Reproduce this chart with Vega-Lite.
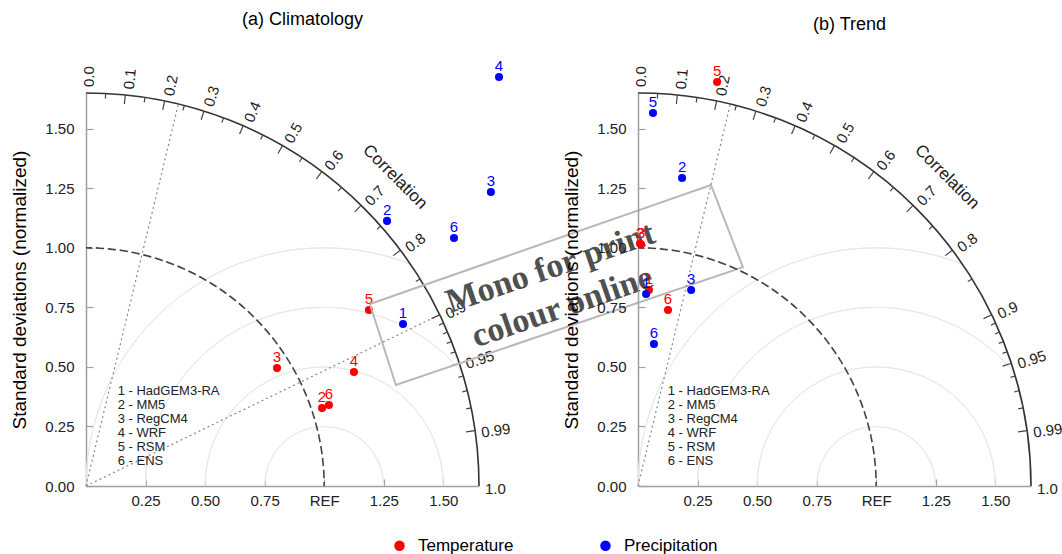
{
  "$schema": "https://vega.github.io/schema/vega-lite/v6.json",
  "padding": {"left": 10, "top": 11, "right": 0, "bottom": 0},
  "background": "white",
  "config": {
    "view": {"stroke": null},
    "font": "Liberation Sans",
    "axis": {"domainColor": "#a0a0a0", "domainWidth": 1.5, "tickColor": "#a0a0a0", "tickWidth": 1.2, "tickSize": -7, "labelFontSize": 15, "labelColor": "#222", "labelFont": "Liberation Sans", "titleFont": "Liberation Sans", "titleFontSize": 19, "titleFontWeight": "normal", "titleColor": "#000", "grid": false, "zindex": 1},
    "title": {"font": "Liberation Sans", "fontSize": 18, "fontWeight": "normal", "color": "#000", "anchor": "middle", "frame": "group", "offset": 30}
  },
  "datasets": {
    "rms": [
      {"x": 1, "y": 0, "r": 0.25, "t0": -1.5708, "t1": 1.5708},
      {"x": 1, "y": 0, "r": 0.5, "t0": -1.5708, "t1": 1.5708},
      {"x": 1, "y": 0, "r": 0.75, "t0": -1.5708, "t1": 0.8842},
      {"x": 1, "y": 0, "r": 1.0, "t0": -1.5708, "t1": 0.3697}
    ],
    "refarc": [{"x": 0, "y": 0, "r": 1.0, "t0": 0, "t1": 1.5708}],
    "outer": [{"x": 0, "y": 0, "r": 1.65, "t0": 0, "t1": 1.5708}],
    "ticks": [
      {"x": 0, "y": 0, "c": 0.1, "t": 0.100167, "kind": "major"},
      {"x": 0, "y": 0, "c": 0.2, "t": 0.201358, "kind": "major"},
      {"x": 0, "y": 0, "c": 0.3, "t": 0.304693, "kind": "major"},
      {"x": 0, "y": 0, "c": 0.4, "t": 0.411517, "kind": "major"},
      {"x": 0, "y": 0, "c": 0.5, "t": 0.523599, "kind": "major"},
      {"x": 0, "y": 0, "c": 0.6, "t": 0.643501, "kind": "major"},
      {"x": 0, "y": 0, "c": 0.7, "t": 0.775397, "kind": "major"},
      {"x": 0, "y": 0, "c": 0.8, "t": 0.927295, "kind": "major"},
      {"x": 0, "y": 0, "c": 0.9, "t": 1.11977, "kind": "major"},
      {"x": 0, "y": 0, "c": 0.95, "t": 1.253236, "kind": "major"},
      {"x": 0, "y": 0, "c": 0.99, "t": 1.429257, "kind": "major"},
      {"x": 0, "y": 0, "c": 0.05, "t": 0.050021, "kind": "minor"},
      {"x": 0, "y": 0, "c": 0.15, "t": 0.150568, "kind": "minor"},
      {"x": 0, "y": 0, "c": 0.25, "t": 0.25268, "kind": "minor"},
      {"x": 0, "y": 0, "c": 0.35, "t": 0.357571, "kind": "minor"},
      {"x": 0, "y": 0, "c": 0.45, "t": 0.466765, "kind": "minor"},
      {"x": 0, "y": 0, "c": 0.55, "t": 0.582364, "kind": "minor"},
      {"x": 0, "y": 0, "c": 0.65, "t": 0.707584, "kind": "minor"},
      {"x": 0, "y": 0, "c": 0.75, "t": 0.848062, "kind": "minor"},
      {"x": 0, "y": 0, "c": 0.85, "t": 1.015985, "kind": "minor"},
      {"x": 0, "y": 0, "c": 0.91, "t": 1.143284, "kind": "minor"},
      {"x": 0, "y": 0, "c": 0.92, "t": 1.16808, "kind": "minor"},
      {"x": 0, "y": 0, "c": 0.93, "t": 1.194236, "kind": "minor"},
      {"x": 0, "y": 0, "c": 0.94, "t": 1.222025, "kind": "minor"},
      {"x": 0, "y": 0, "c": 0.96, "t": 1.287002, "kind": "minor"},
      {"x": 0, "y": 0, "c": 0.97, "t": 1.325817, "kind": "minor"},
      {"x": 0, "y": 0, "c": 0.98, "t": 1.370461, "kind": "minor"}
    ],
    "clabels": [
      {"x": 0, "y": 0, "label": "0.0", "t": 0, "rot": -90},
      {"x": 0, "y": 0, "label": "0.1", "t": 0.100167, "rot": -84.26},
      {"x": 0, "y": 0, "label": "0.2", "t": 0.201358, "rot": -78.46},
      {"x": 0, "y": 0, "label": "0.3", "t": 0.304693, "rot": -72.54},
      {"x": 0, "y": 0, "label": "0.4", "t": 0.411517, "rot": -66.42},
      {"x": 0, "y": 0, "label": "0.5", "t": 0.523599, "rot": -60},
      {"x": 0, "y": 0, "label": "0.6", "t": 0.643501, "rot": -53.13},
      {"x": 0, "y": 0, "label": "0.7", "t": 0.775397, "rot": -45.57},
      {"x": 0, "y": 0, "label": "0.8", "t": 0.927295, "rot": -36.87},
      {"x": 0, "y": 0, "label": "0.9", "t": 1.11977, "rot": -25.84},
      {"x": 0, "y": 0, "label": "0.95", "t": 1.253236, "rot": -18.19},
      {"x": 0, "y": 0, "label": "0.99", "t": 1.429257, "rot": -8.11},
      {"x": 0, "y": 0, "label": "1.0", "t": 1.570796, "rot": 0}
    ],
    "ctitle": [{"x": 0, "y": 0, "t": 0.7854, "label": "Correlation"}],
    "rays_a": [
      {"x": 0, "y": 0, "x2": 0.3878, "y2": 1.6038},
      {"x": 0, "y": 0, "x2": 1.485, "y2": 0.7192}
    ],
    "rays_b": [
      {"x": 0, "y": 0, "x2": 0.3878, "y2": 1.6038}
    ],
    "models_a": [
      {"x": 0.133, "y": 0.399, "label": "1 - HadGEM3-RA"},
      {"x": 0.133, "y": 0.34, "label": "2 - MM5"},
      {"x": 0.133, "y": 0.281, "label": "3 - RegCM4"},
      {"x": 0.133, "y": 0.221, "label": "4 - WRF"},
      {"x": 0.133, "y": 0.162, "label": "5 - RSM"},
      {"x": 0.133, "y": 0.103, "label": "6 - ENS"}
    ],
    "models_b": [
      {"x": 0.125, "y": 0.399, "label": "1 - HadGEM3-RA"},
      {"x": 0.125, "y": 0.34, "label": "2 - MM5"},
      {"x": 0.125, "y": 0.281, "label": "3 - RegCM4"},
      {"x": 0.125, "y": 0.221, "label": "4 - WRF"},
      {"x": 0.125, "y": 0.162, "label": "5 - RSM"},
      {"x": 0.125, "y": 0.103, "label": "6 - ENS"}
    ],
    "pts_a": [
      {"x": 0.991, "y": 0.327, "id": "2", "var": "Temperature"},
      {"x": 0.802, "y": 0.495, "id": "3", "var": "Temperature"},
      {"x": 1.125, "y": 0.479, "id": "4", "var": "Temperature"},
      {"x": 1.188, "y": 0.739, "id": "5", "var": "Temperature"},
      {"x": 1.02, "y": 0.34, "id": "6", "var": "Temperature"},
      {"x": 1.331, "y": 0.68, "id": "1", "var": "Precipitation"},
      {"x": 1.264, "y": 1.113, "id": "2", "var": "Precipitation"},
      {"x": 1.7, "y": 1.234, "id": "3", "var": "Precipitation"},
      {"x": 1.734, "y": 1.717, "id": "4", "var": "Precipitation"},
      {"x": 1.545, "y": 1.041, "id": "6", "var": "Precipitation"}
    ],
    "pts_b": [
      {"x": 0.046, "y": 0.823, "id": "1", "var": "Temperature"},
      {"x": 0.008, "y": 1.018, "id": "2", "var": "Temperature"},
      {"x": 0.013, "y": 1.014, "id": "3", "var": "Temperature"},
      {"x": 0.332, "y": 1.696, "id": "5", "var": "Temperature"},
      {"x": 0.126, "y": 0.739, "id": "6", "var": "Temperature"},
      {"x": 0.034, "y": 0.806, "id": "1", "var": "Precipitation"},
      {"x": 0.185, "y": 1.293, "id": "2", "var": "Precipitation"},
      {"x": 0.223, "y": 0.823, "id": "3", "var": "Precipitation"},
      {"x": 0.063, "y": 1.566, "id": "5", "var": "Precipitation"},
      {"x": 0.067, "y": 0.596, "id": "6", "var": "Precipitation"}
    ],
    "box": [
      {"x": 1.192, "y": 0.764, "k": 0},
      {"x": 2.624, "y": 1.264, "k": 1},
      {"x": 2.758, "y": 0.919, "k": 2},
      {"x": 1.301, "y": 0.424, "k": 3},
      {"x": 1.192, "y": 0.764, "k": 4}
    ],
    "wm": [
      {"x": 1.95, "y": 0.915, "label": "Mono for print"},
      {"x": 2.0, "y": 0.75, "label": "colour online"}
    ]
  },
  "hconcat": [
    {
      "width": 393,
      "height": 393,
      "title": {"text": "(a) Climatology", "dx": 20},
      "encoding": {
        "x": {"field": "x", "type": "quantitative", "scale": {"domain": [0, 1.65], "nice": false, "zero": false}, "axis": {"values": [0.25, 0.5, 0.75, 1, 1.25, 1.5], "labelExpr": "datum.value == 1 ? 'REF' : format(datum.value, '.2f')", "title": null, "labelPadding": 14}},
        "y": {"field": "y", "type": "quantitative", "scale": {"domain": [0, 1.65], "nice": false, "zero": false}, "axis": {"values": [0, 0.25, 0.5, 0.75, 1, 1.25, 1.5], "format": ".2f", "title": "Standard deviations (normalized)", "labelPadding": 19, "titlePadding": 15}}
      },
      "layer": [
        {
          "data": {"name": "rms"},
          "mark": {"type": "arc", "filled": false, "stroke": "#e8e8e8", "strokeWidth": 1, "clip": false},
          "encoding": {
            "theta": {"field": "t0", "type": "quantitative", "scale": null, "stack": null},
            "theta2": {"field": "t1"},
            "radius": {"field": "r", "type": "quantitative", "scale": {"type": "linear", "domain": [0, 1.65], "range": [0, 393], "zero": true, "nice": false}},
            "radius2": {"field": "r"}
          }
        },
        {
          "data": {"name": "refarc"},
          "mark": {"type": "arc", "filled": false, "stroke": "#444", "strokeWidth": 1.6, "strokeDash": [8, 4], "strokeDashOffset": 1.863, "clip": false},
          "encoding": {
            "theta": {"field": "t0", "type": "quantitative", "scale": null, "stack": null},
            "theta2": {"field": "t1"},
            "radius": {"field": "r", "type": "quantitative", "scale": {"type": "linear", "domain": [0, 1.65], "range": [0, 393], "zero": true, "nice": false}},
            "radius2": {"field": "r"}
          }
        },
        {
          "data": {"name": "rays_a"},
          "mark": {"type": "rule", "stroke": "#888", "strokeWidth": 1.2, "strokeDash": [2, 3]},
          "encoding": {"x2": {"field": "x2"}, "y2": {"field": "y2"}}
        },
        {
          "data": {"name": "outer"},
          "mark": {"type": "arc", "filled": false, "stroke": "#333", "strokeWidth": 1.6, "clip": false},
          "encoding": {
            "theta": {"field": "t0", "type": "quantitative", "scale": null, "stack": null},
            "theta2": {"field": "t1"},
            "radius": {"field": "r", "type": "quantitative", "scale": {"type": "linear", "domain": [0, 1.65], "range": [0, 393], "zero": true, "nice": false}},
            "radius2": {"field": "r"}
          }
        },
        {
          "data": {"name": "ticks"},
          "transform": [{"filter": "datum.kind == 'major'"}],
          "mark": {"type": "arc", "filled": false, "stroke": "#444", "strokeWidth": 1.2, "clip": false},
          "encoding": {
            "theta": {"field": "t", "type": "quantitative", "scale": null, "stack": null},
            "theta2": {"field": "t"},
            "radius": {"datum": 1.65, "type": "quantitative", "scale": {"type": "linear", "domain": [0, 1.65], "range": [0, 393], "zero": true, "nice": false}},
            "radius2": {"datum": 1.612}
          }
        },
        {
          "data": {"name": "ticks"},
          "transform": [{"filter": "datum.kind == 'minor'"}],
          "mark": {"type": "arc", "filled": false, "stroke": "#444", "strokeWidth": 1.2, "clip": false},
          "encoding": {
            "theta": {"field": "t", "type": "quantitative", "scale": null, "stack": null},
            "theta2": {"field": "t"},
            "radius": {"datum": 1.65, "type": "quantitative", "scale": {"type": "linear", "domain": [0, 1.65], "range": [0, 393], "zero": true, "nice": false}},
            "radius2": {"datum": 1.629}
          }
        },
        {
          "data": {"name": "clabels"},
          "mark": {"type": "text", "align": "left", "baseline": "middle", "fontSize": 15, "fill": "#222", "dy": 3},
          "encoding": {
            "text": {"field": "label"},
            "theta": {"field": "t", "type": "quantitative", "scale": null},
            "radius": {"datum": 1.675, "type": "quantitative", "scale": {"type": "linear", "domain": [0, 1.65], "range": [0, 393], "zero": true, "nice": false}},
            "angle": {"field": "rot", "type": "quantitative", "scale": null}
          }
        },
        {
          "data": {"name": "ctitle"},
          "mark": {"type": "text", "align": "center", "baseline": "middle", "fontSize": 17, "fill": "#222", "angle": 45},
          "encoding": {
            "text": {"field": "label"},
            "theta": {"field": "t", "type": "quantitative", "scale": null},
            "radius": {"datum": 1.835, "type": "quantitative", "scale": {"type": "linear", "domain": [0, 1.65], "range": [0, 393], "zero": true, "nice": false}}
          }
        },
        {
          "data": {"name": "models_a"},
          "mark": {"type": "text", "align": "left", "baseline": "middle", "fontSize": 13, "fill": "#222"},
          "encoding": {"text": {"field": "label"}}
        },
        {
          "data": {"name": "pts_a"},
          "mark": {"type": "circle", "size": 65, "opacity": 1},
          "encoding": {
            "color": {"field": "var", "type": "nominal", "scale": {"domain": ["Temperature", "Precipitation"], "range": ["#ff0000", "#0000ff"]}, "legend": {"orient": "none", "legendX": 305, "legendY": 444, "direction": "horizontal", "columns": 2, "columnPadding": 83, "title": null, "labelFontSize": 17, "labelColor": "#000", "labelFont": "Liberation Sans", "symbolSize": 110, "symbolOpacity": 1, "labelOffset": 10, "padding": 0}}
          }
        },
        {
          "data": {"name": "pts_a"},
          "mark": {"type": "text", "align": "center", "baseline": "alphabetic", "fontSize": 15, "dy": -6},
          "encoding": {
            "text": {"field": "id"},
            "color": {"field": "var", "type": "nominal", "scale": {"domain": ["Temperature", "Precipitation"], "range": ["#ff0000", "#0000ff"]}, "legend": null}
          }
        },
        {
          "data": {"name": "box"},
          "mark": {"type": "line", "stroke": "#b8b8b8", "strokeWidth": 2, "clip": false},
          "encoding": {"order": {"field": "k", "type": "quantitative"}}
        },
        {
          "data": {"name": "wm"},
          "mark": {"type": "text", "align": "center", "baseline": "middle", "font": "Liberation Serif", "fontWeight": "bold", "fontSize": 34, "fill": "#505050", "angle": 341},
          "encoding": {"text": {"field": "label"}}
        }
      ]
    },
    {
      "width": 393,
      "height": 393,
      "title": {"text": "(b) Trend", "dx": 15},
      "encoding": {
        "x": {"field": "x", "type": "quantitative", "scale": {"domain": [0, 1.65], "nice": false, "zero": false}, "axis": {"values": [0.25, 0.5, 0.75, 1, 1.25, 1.5], "labelExpr": "datum.value == 1 ? 'REF' : format(datum.value, '.2f')", "title": null, "labelPadding": 14}},
        "y": {"field": "y", "type": "quantitative", "scale": {"domain": [0, 1.65], "nice": false, "zero": false}, "axis": {"values": [0, 0.25, 0.5, 0.75, 1, 1.25, 1.5], "format": ".2f", "title": "Standard deviations (normalized)", "labelPadding": 19, "titlePadding": 15}}
      },
      "layer": [
        {
          "data": {"name": "rms"},
          "mark": {"type": "arc", "filled": false, "stroke": "#e8e8e8", "strokeWidth": 1, "clip": false},
          "encoding": {
            "theta": {"field": "t0", "type": "quantitative", "scale": null, "stack": null},
            "theta2": {"field": "t1"},
            "radius": {"field": "r", "type": "quantitative", "scale": {"type": "linear", "domain": [0, 1.65], "range": [0, 393], "zero": true, "nice": false}},
            "radius2": {"field": "r"}
          }
        },
        {
          "data": {"name": "refarc"},
          "mark": {"type": "arc", "filled": false, "stroke": "#444", "strokeWidth": 1.6, "strokeDash": [8, 4], "strokeDashOffset": 1.863, "clip": false},
          "encoding": {
            "theta": {"field": "t0", "type": "quantitative", "scale": null, "stack": null},
            "theta2": {"field": "t1"},
            "radius": {"field": "r", "type": "quantitative", "scale": {"type": "linear", "domain": [0, 1.65], "range": [0, 393], "zero": true, "nice": false}},
            "radius2": {"field": "r"}
          }
        },
        {
          "data": {"name": "rays_b"},
          "mark": {"type": "rule", "stroke": "#888", "strokeWidth": 1.2, "strokeDash": [2, 3]},
          "encoding": {"x2": {"field": "x2"}, "y2": {"field": "y2"}}
        },
        {
          "data": {"name": "outer"},
          "mark": {"type": "arc", "filled": false, "stroke": "#333", "strokeWidth": 1.6, "clip": false},
          "encoding": {
            "theta": {"field": "t0", "type": "quantitative", "scale": null, "stack": null},
            "theta2": {"field": "t1"},
            "radius": {"field": "r", "type": "quantitative", "scale": {"type": "linear", "domain": [0, 1.65], "range": [0, 393], "zero": true, "nice": false}},
            "radius2": {"field": "r"}
          }
        },
        {
          "data": {"name": "ticks"},
          "transform": [{"filter": "datum.kind == 'major'"}],
          "mark": {"type": "arc", "filled": false, "stroke": "#444", "strokeWidth": 1.2, "clip": false},
          "encoding": {
            "theta": {"field": "t", "type": "quantitative", "scale": null, "stack": null},
            "theta2": {"field": "t"},
            "radius": {"datum": 1.65, "type": "quantitative", "scale": {"type": "linear", "domain": [0, 1.65], "range": [0, 393], "zero": true, "nice": false}},
            "radius2": {"datum": 1.612}
          }
        },
        {
          "data": {"name": "ticks"},
          "transform": [{"filter": "datum.kind == 'minor'"}],
          "mark": {"type": "arc", "filled": false, "stroke": "#444", "strokeWidth": 1.2, "clip": false},
          "encoding": {
            "theta": {"field": "t", "type": "quantitative", "scale": null, "stack": null},
            "theta2": {"field": "t"},
            "radius": {"datum": 1.65, "type": "quantitative", "scale": {"type": "linear", "domain": [0, 1.65], "range": [0, 393], "zero": true, "nice": false}},
            "radius2": {"datum": 1.629}
          }
        },
        {
          "data": {"name": "clabels"},
          "mark": {"type": "text", "align": "left", "baseline": "middle", "fontSize": 15, "fill": "#222", "dy": 3},
          "encoding": {
            "text": {"field": "label"},
            "theta": {"field": "t", "type": "quantitative", "scale": null},
            "radius": {"datum": 1.675, "type": "quantitative", "scale": {"type": "linear", "domain": [0, 1.65], "range": [0, 393], "zero": true, "nice": false}},
            "angle": {"field": "rot", "type": "quantitative", "scale": null}
          }
        },
        {
          "data": {"name": "ctitle"},
          "mark": {"type": "text", "align": "center", "baseline": "middle", "fontSize": 17, "fill": "#222", "angle": 45},
          "encoding": {
            "text": {"field": "label"},
            "theta": {"field": "t", "type": "quantitative", "scale": null},
            "radius": {"datum": 1.835, "type": "quantitative", "scale": {"type": "linear", "domain": [0, 1.65], "range": [0, 393], "zero": true, "nice": false}}
          }
        },
        {
          "data": {"name": "models_b"},
          "mark": {"type": "text", "align": "left", "baseline": "middle", "fontSize": 13, "fill": "#222"},
          "encoding": {"text": {"field": "label"}}
        },
        {
          "data": {"name": "pts_b"},
          "mark": {"type": "circle", "size": 65, "opacity": 1},
          "encoding": {
            "color": {"field": "var", "type": "nominal", "scale": {"domain": ["Temperature", "Precipitation"], "range": ["#ff0000", "#0000ff"]}, "legend": {"orient": "none", "legendX": 305, "legendY": 444, "direction": "horizontal", "columns": 2, "columnPadding": 83, "title": null, "labelFontSize": 17, "labelColor": "#000", "labelFont": "Liberation Sans", "symbolSize": 110, "symbolOpacity": 1, "labelOffset": 10, "padding": 0}}
          }
        },
        {
          "data": {"name": "pts_b"},
          "mark": {"type": "text", "align": "center", "baseline": "alphabetic", "fontSize": 15, "dy": -6},
          "encoding": {
            "text": {"field": "id"},
            "color": {"field": "var", "type": "nominal", "scale": {"domain": ["Temperature", "Precipitation"], "range": ["#ff0000", "#0000ff"]}, "legend": null}
          }
        }
      ]
    }
  ],
  "spacing": 159,
  "bounds": "flush"
}
